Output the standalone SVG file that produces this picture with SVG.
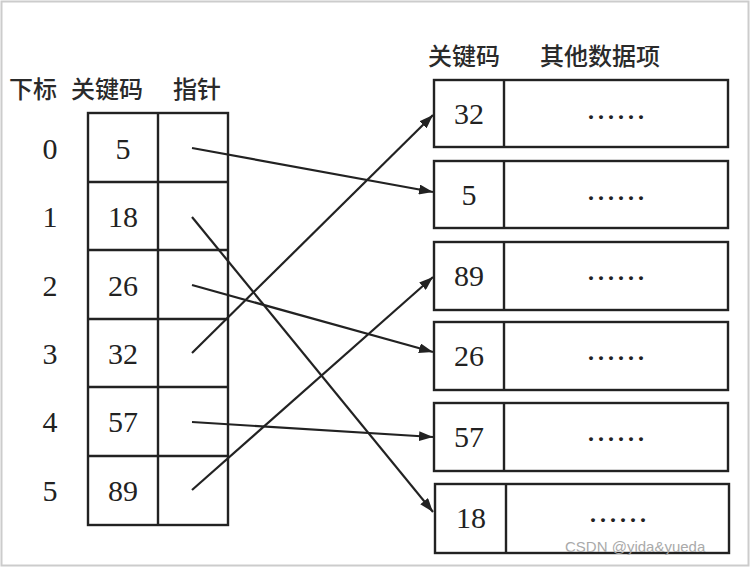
<svg xmlns="http://www.w3.org/2000/svg" width="750" height="567" viewBox="0 0 750 567">
<style>
.box{fill:#fff;stroke:#222;stroke-width:2.4}
.ln{stroke:#222;stroke-width:2.4;fill:none}
.num{font-family:"Liberation Serif",serif;font-size:30px;fill:#222;text-anchor:middle;dominant-baseline:central}
.hd{font-family:"Noto Sans CJK SC",sans-serif;font-size:24px;fill:#2a2a2a;dominant-baseline:central;font-weight:500}
.dots{font-family:"Liberation Serif",serif;font-size:24px;fill:#222;text-anchor:middle;font-weight:bold;letter-spacing:4px}
.arr{stroke:#222;stroke-width:2.2;fill:none;marker-end:url(#ah)}
</style>
<defs>
<marker id="ah" viewBox="0 0 14 10" refX="14" refY="5" markerWidth="14" markerHeight="10" markerUnits="userSpaceOnUse" orient="auto">
<path d="M0,0 L14,5 L0,10 Z" fill="#222"/>
</marker>
</defs>
<rect x="0" y="0" width="750" height="567" fill="#fff"/>
<rect x="1.5" y="1.5" width="747" height="564" fill="none" stroke="#ccc" stroke-width="2"/>
<g id="headers">
<text class="hd" x="9" y="87">下标</text>
<text class="hd" x="71" y="87">关键码</text>
<text class="hd" x="173" y="87">指针</text>
<text class="hd" x="428" y="54">关键码</text>
<text class="hd" x="540" y="54">其他数据项</text>
</g>
<g id="index-table">
<rect class="box" x="88" y="113" width="140" height="412"/>
<line class="ln" x1="158" y1="113" x2="158" y2="525"/>
<line class="ln" x1="88" y1="182" x2="228" y2="182"/>
<line class="ln" x1="88" y1="250" x2="228" y2="250"/>
<line class="ln" x1="88" y1="319" x2="228" y2="319"/>
<line class="ln" x1="88" y1="387" x2="228" y2="387"/>
<line class="ln" x1="88" y1="456" x2="228" y2="456"/>
<text class="num" x="50" y="148">0</text>
<text class="num" x="50" y="216">1</text>
<text class="num" x="50" y="285">2</text>
<text class="num" x="50" y="353">3</text>
<text class="num" x="50" y="421">4</text>
<text class="num" x="50" y="490">5</text>
<text class="num" x="123" y="148">5</text>
<text class="num" x="123" y="216">18</text>
<text class="num" x="123" y="285">26</text>
<text class="num" x="123" y="353">32</text>
<text class="num" x="123" y="421">57</text>
<text class="num" x="123" y="490">89</text>
</g>
<g id="rec32"><rect class="box" x="434" y="80" width="294" height="67"/><line class="ln" x1="504" y1="80" x2="504" y2="147"/><text class="num" x="469" y="113">32</text><text class="dots" x="618" y="119">......</text></g>
<g id="rec5"><rect class="box" x="434" y="161" width="294" height="67"/><line class="ln" x1="504" y1="161" x2="504" y2="228"/><text class="num" x="469" y="194">5</text><text class="dots" x="618" y="200">......</text></g>
<g id="rec89"><rect class="box" x="434" y="242" width="294" height="68"/><line class="ln" x1="504" y1="242" x2="504" y2="310"/><text class="num" x="469" y="275">89</text><text class="dots" x="618" y="280">......</text></g>
<g id="rec26"><rect class="box" x="434" y="322" width="294" height="68"/><line class="ln" x1="504" y1="322" x2="504" y2="390"/><text class="num" x="469" y="355">26</text><text class="dots" x="618" y="360">......</text></g>
<g id="rec57"><rect class="box" x="434" y="403" width="294" height="68"/><line class="ln" x1="504" y1="403" x2="504" y2="471"/><text class="num" x="469" y="436">57</text><text class="dots" x="618" y="441">......</text></g>
<g id="rec18"><rect class="box" x="435" y="484" width="294" height="69"/><line class="ln" x1="506" y1="484" x2="506" y2="553"/><text class="num" x="471" y="517">18</text><text class="dots" x="620" y="522">......</text></g>
<g id="connectors">
<line class="arr" x1="192" y1="148" x2="433" y2="192"/>
<line class="arr" x1="192" y1="217" x2="433" y2="512"/>
<line class="arr" x1="192" y1="285" x2="433" y2="352"/>
<line class="arr" x1="192" y1="353" x2="433" y2="115"/>
<line class="arr" x1="192" y1="422" x2="433" y2="437"/>
<line class="arr" x1="192" y1="490" x2="433" y2="277"/>
</g>
<text x="565" y="552" font-family="Liberation Sans, sans-serif" font-size="15" fill="#aaa">CSDN @yida&amp;yueda</text>
</svg>
